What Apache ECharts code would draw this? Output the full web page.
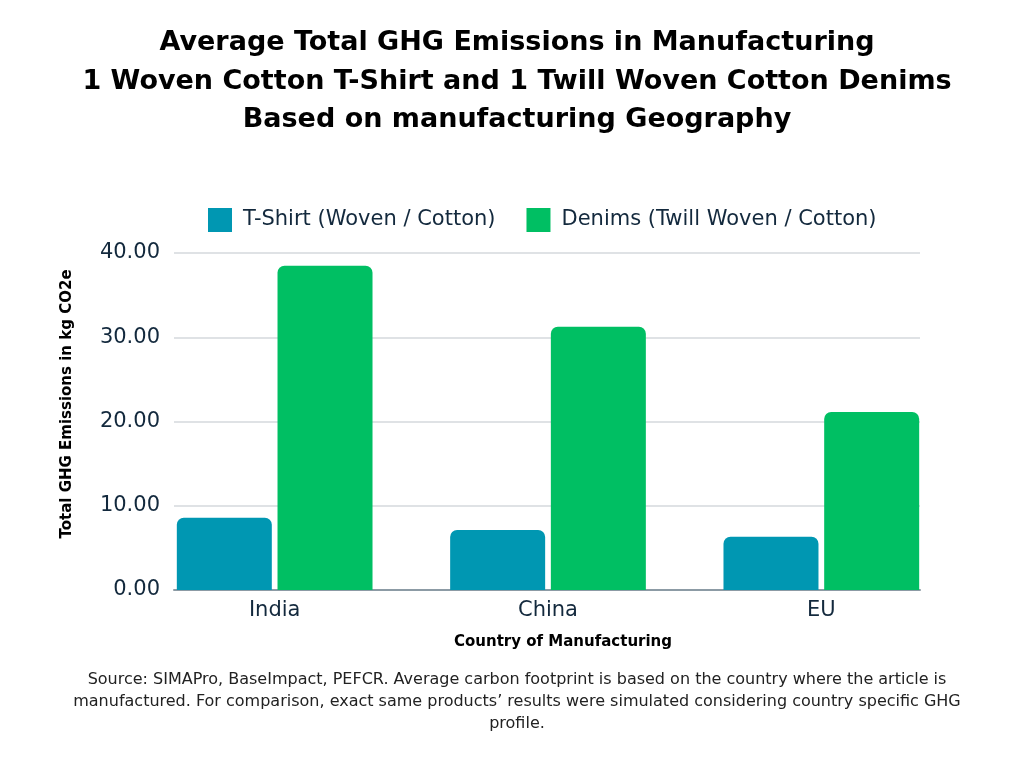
<!DOCTYPE html>
<html>
<head>
<meta charset="utf-8">
<script src="https://cdn.jsdelivr.net/npm/echarts@6/dist/echarts.min.js"></script>
<style>
html,body{margin:0;padding:0;background:#fff;}
#c{width:1024px;height:768px;}
</style>
</head>
<body>
<div id="c"></div>
<script>
const categories = ['India', 'China', 'EU'];
const seriesNames = ['T-Shirt (Woven / Cotton)', 'Denims (Twill Woven / Cotton)'];
const tshirtValues = [8.58, 7.12, 6.33];
const denimValues = [38.5, 31.25, 21.13];
const yTicks = { min: 0, max: 40, interval: 10 };
const titleLines = [
  'Average Total GHG Emissions in Manufacturing',
  '1 Woven Cotton T-Shirt and 1 Twill Woven Cotton Denims',
  'Based on manufacturing Geography'
];
const footerLines = [
  'Source: SIMAPro, BaseImpact, PEFCR. Average carbon footprint is based on the country where the article is',
  'manufactured. For comparison, exact same products\u2019 results were simulated considering country specific GHG',
  'profile.'
];
const yAxisName = 'Total GHG Emissions in kg CO2e';
const xAxisName = 'Country of Manufacturing';

const FONT = '"DejaVu Sans", "Open Sans", sans-serif';
const TEXT = '#13293d';
const chart = echarts.init(document.getElementById('c'), null, { renderer: 'canvas' });

chart.setOption({
  backgroundColor: '#ffffff',
  textStyle: { fontFamily: FONT },
  animation: false,
  title: [
    {
      text: titleLines.join('\n'),
      left: 512, top: 19, textAlign: 'center',
      textStyle: { fontFamily: FONT, fontSize: 27, fontWeight: 'bold', color: '#000', lineHeight: 38.5 }
    },
    {
      text: footerLines.join('\n'),
      left: 512, top: 664, textAlign: 'center',
      textStyle: { fontFamily: FONT, fontSize: 16, fontWeight: 'normal', color: '#222', lineHeight: 22 }
    }
  ],
  legend: {
    data: seriesNames,
    top: 203, left: 203,
    itemWidth: 24, itemHeight: 24, itemGap: 31,
    icon: 'rect',
    textStyle: { fontFamily: FONT, fontSize: 21, color: TEXT, padding: [0, 0, 0, 6] }
  },
  grid: [
    { left: 174, right: 104, top: 253, bottom: 178 },
    { left: 138, right: 66, top: 253, bottom: 178 }
  ],
  xAxis: [
    {
      gridIndex: 0, type: 'category', data: categories,
      axisLine: { show: true, lineStyle: { color: '#8c9ba5', width: 2 } },
      axisTick: { show: false }, axisLabel: { show: false }, splitLine: { show: false }
    },
    {
      gridIndex: 1, type: 'category', data: categories,
      axisLine: { show: false }, axisTick: { show: false },
      axisLabel: { fontFamily: FONT, fontSize: 21, color: TEXT, margin: 10 }
    }
  ],
  yAxis: [
    {
      gridIndex: 0, type: 'value', min: yTicks.min, max: yTicks.max, interval: yTicks.interval,
      axisLine: { show: false }, axisTick: { show: false },
      axisLabel: { fontFamily: FONT, fontSize: 21, color: TEXT, margin: 14, formatter: v => v.toFixed(2) },
      splitLine: { show: true, lineStyle: { color: '#d5d9dd', width: 1.5 } }
    },
    {
      gridIndex: 1, type: 'value', min: yTicks.min, max: yTicks.max, interval: yTicks.interval,
      show: false, splitLine: { show: false }
    }
  ],
  series: [
    {
      name: seriesNames[0], type: 'bar', xAxisIndex: 1, yAxisIndex: 1,
      data: tshirtValues, barWidth: 95, barGap: '6%',
      itemStyle: { color: '#0097b2', borderRadius: [7, 7, 0, 0] }
    },
    {
      name: seriesNames[1], type: 'bar', xAxisIndex: 1, yAxisIndex: 1,
      data: denimValues, barWidth: 95, barGap: '6%',
      itemStyle: { color: '#00bf63', borderRadius: [7, 7, 0, 0] }
    }
  ],
  graphic: [
    {
      type: 'text', x: 67, y: 404, rotation: Math.PI / 2,
      style: { text: yAxisName, fontFamily: FONT, fontSize: 15, fontWeight: 'bold', fill: '#000',
               textAlign: 'center', textVerticalAlign: 'middle' }
    },
    {
      type: 'text', x: 563, y: 642,
      style: { text: xAxisName, fontFamily: FONT, fontSize: 15, fontWeight: 'bold', fill: '#000',
               textAlign: 'center', textVerticalAlign: 'middle' }
    }
  ]
});
</script>
</body>
</html>
